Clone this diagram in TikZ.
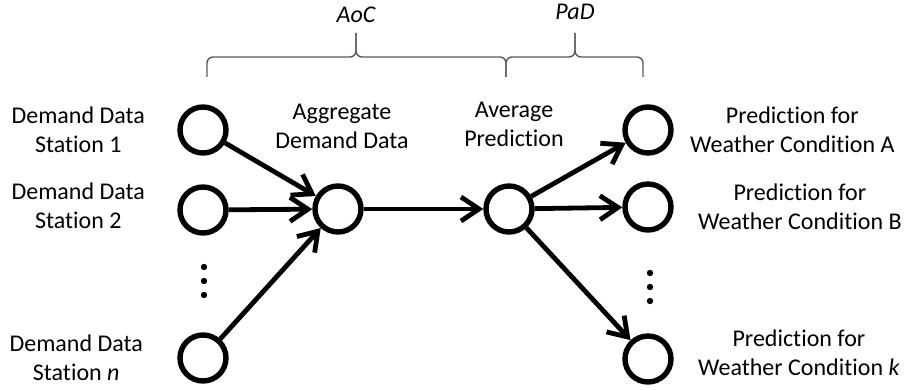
\documentclass[tikz,border=0pt]{standalone}
\usepackage{fontspec}
\setmainfont{Carlito}[Ligatures=NoCommon]
\usetikzlibrary{arrows.meta,positioning}

\begin{document}
\begin{tikzpicture}[x=0.5pt, y=-0.5pt,
    state/.style={circle, draw, line width=2.7pt, minimum size=23pt, inner sep=0pt},
    lbl/.style={align=center, inner sep=0pt, font=\fontsize{12}{14.5}\selectfont},
    flow/.style={line width=2.4pt, -{Straight Barb[length=9pt,width=12pt]}},
    grp/.style={draw=black!65, line width=0.7pt, rounded corners=3pt}]
    \useasboundingbox (0,0) rectangle (906,390);

    % circles
    \node[state] (S1) at (203,130) {};
    \node[state] (S2) at (203,210) {};
    \node[state] (Sn) at (203,358) {};
    \node[state] (Agg) at (338,209) {};
    \node[state] (Avg) at (509,209) {};
    \node[state] (WA) at (648,130) {};
    \node[state] (WB) at (648,207) {};
    \node[state] (Wk) at (648,359) {};

    % labels
    \node[lbl, left=16pt of S1] (L1) {Demand Data\\Station 1};
    \node[lbl, left=16pt of S2, yshift=2pt] (L2) {Demand Data\\Station 2};
    \node[lbl, left=17pt of Sn] (Ln) {Demand Data\\Station \textit{n}};
    \node[lbl, above=17pt of Agg, xshift=2pt] (LAgg) {Aggregate\\Demand Data};
    \node[lbl, above=18pt of Avg, xshift=2.5pt] (LAvg) {Average\\Prediction};
    \node[lbl, right=8pt of WA] (LA) {Prediction for\\Weather Condition A};
    \node[lbl, right=12pt of WB] (LB) {Prediction for\\Weather Condition B};
    \node[lbl, right=12pt of Wk, yshift=3pt] (Lk) {Prediction for\\Weather Condition \textit{k}};

    % vertical dots
    \foreach \y in {267,281,295} \fill (204,\y) circle (1.6pt);
    \foreach \y in {273,287,301} \fill (650,\y) circle (1.6pt);

    % connectors
    \draw[flow] (S1) -- (Agg);
    \draw[flow] (S2) -- (Agg);
    \draw[flow] (Sn) -- (Agg);
    \draw[flow] (Agg) -- (Avg);
    \draw[flow] (Avg) -- (WA);
    \draw[flow] (Avg) -- (WB);
    \draw[flow] (Avg) -- (Wk);

    % braces
    \coordinate (b1) at (207,77);
    \coordinate (b2) at (506,77);
    \coordinate (b3) at (643,77);
    \coordinate (t1) at (356,33);
    \coordinate (t2) at (575,33);
    \draw[grp] (b1) |- (t1 |- 0,57) -- (t1);
    \draw[grp] (b2) |- (t1 |- 0,57) -- (t1);
    \draw[grp] (b2) |- (t2 |- 0,57) -- (t2);
    \draw[grp] (b3) |- (t2 |- 0,57) -- (t2);
    \node[lbl, font=\fontsize{12}{14.5}\selectfont\itshape] (AoC) at (356,15) {AoC};
    \node[lbl, font=\fontsize{12}{14.5}\selectfont\itshape] (PaD) at (575,12) {PaD};
\end{tikzpicture}
\end{document}
